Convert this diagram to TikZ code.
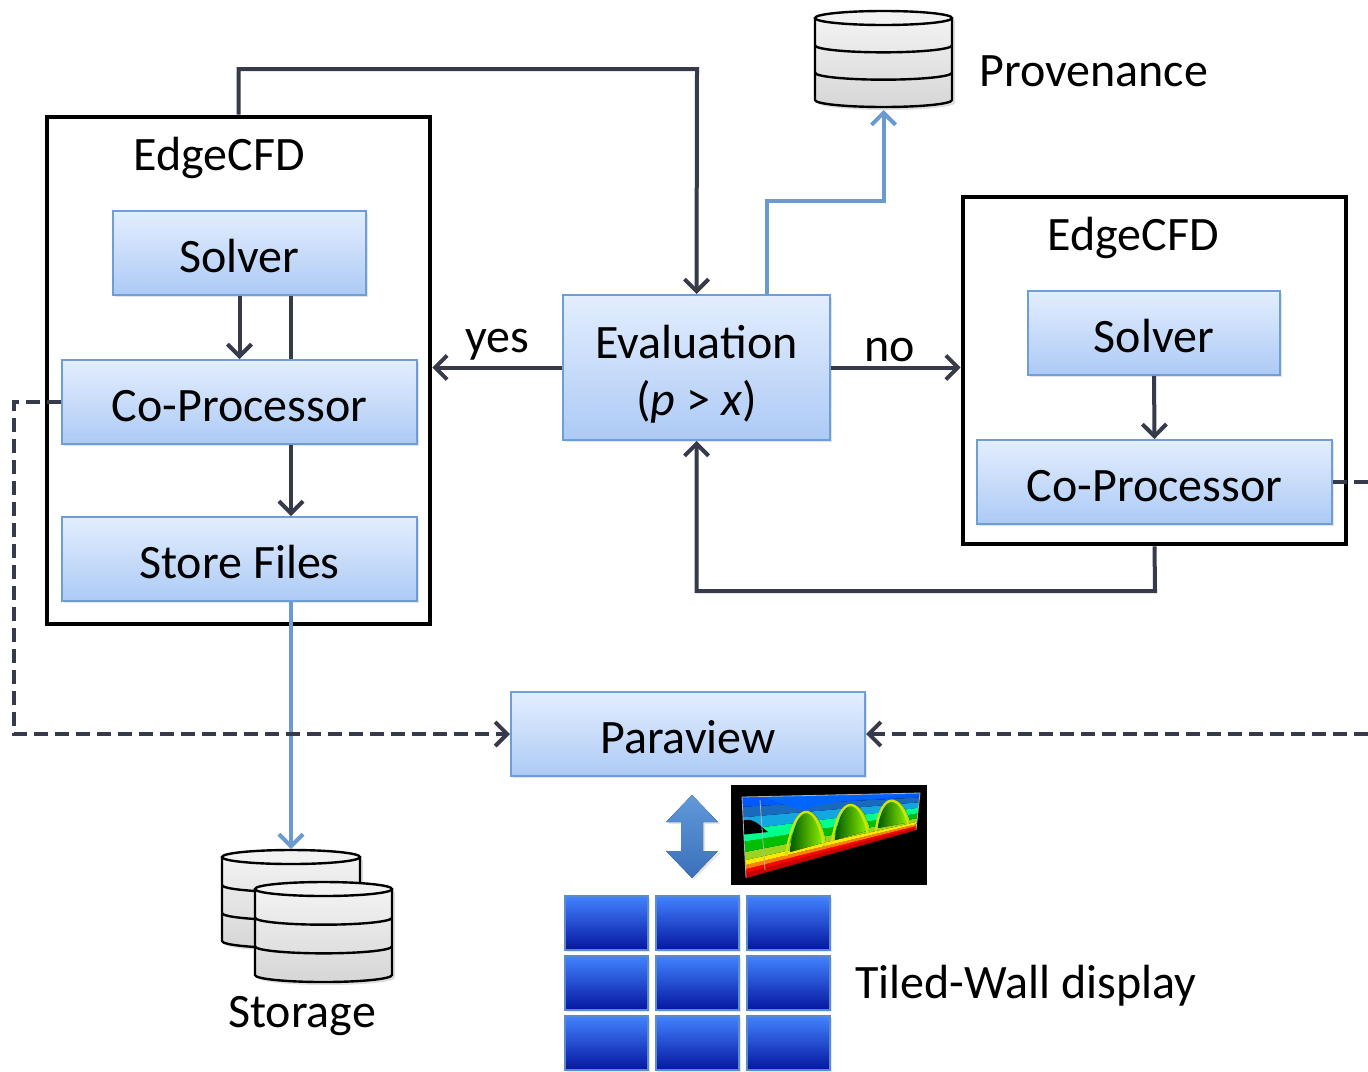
\documentclass[tikz,border=0pt]{standalone}
\usepackage{fontspec}
\setmainfont{Carlito}
\usetikzlibrary{arrows.meta,shadows,calc}

\definecolor{linedark}{HTML}{363A4A}
\definecolor{lineblue}{HTML}{6A9AD0}
\definecolor{boxtop}{HTML}{E3EEFE}
\definecolor{boxbot}{HTML}{ADCAF5}
\definecolor{boxedge}{HTML}{6E9ED6}
\definecolor{tiletop}{HTML}{4283FF}
\definecolor{tilebot}{HTML}{0616A0}
\definecolor{tileedge}{HTML}{5A8CCB}
\definecolor{arrowtop}{HTML}{6199DA}
\definecolor{arrowbot}{HTML}{3A70BA}

\tikzset{
  txt/.style={font=\fontsize{24}{28.5}\selectfont, inner sep=0pt},
  box/.style={txt, draw=boxedge, line width=1pt, top color=boxtop,
    bottom color=boxbot, text height=19.5pt, text depth=0pt,
    drop shadow={shadow xshift=1pt, shadow yshift=-1.2pt, opacity=0.22}},
  frame/.style={draw=black, line width=2.3pt, inner sep=0pt},
  conn/.style={draw=linedark, line width=2pt,
    -{Straight Barb[length=6pt,width=12pt,line width=2pt]}},
  plain/.style={draw=linedark, line width=2pt},
  bconn/.style={draw=lineblue, line width=2pt,
    -{Straight Barb[length=6pt,width=12pt,line width=2pt]}},
  dconn/.style={draw=linedark, line width=2pt, dash pattern=on 7pt off 3.5pt,
    -{Straight Barb[length=6pt,width=12pt,line width=2pt]}},
  dplain/.style={draw=linedark, line width=2pt, dash pattern=on 7pt off 3.5pt},
  tile/.style={draw=tileedge, line width=1.2pt, top color=tiletop,
    bottom color=tilebot, minimum width=41.5pt, minimum height=27pt,
    inner sep=0pt,
    drop shadow={shadow xshift=0.8pt, shadow yshift=-0.8pt, opacity=0.2}},
  drumfill/.style={top color=gray!8, bottom color=gray!32},
  drumtop/.style={fill=gray!10},
  drumline/.style={draw=black, line width=1.2pt},
}

% database drum: centre x, top ellipse centre y, x radius, y radius, height
\newcommand\drumshape[5]{%
  \fill[drumfill, drop shadow={shadow xshift=1.5pt, shadow yshift=-1.5pt, opacity=0.25}]
    (#1-#3,#2) -- (#1-#3,#2-#5)
    arc[start angle=180,end angle=360,x radius=#3,y radius=#4]
    -- (#1+#3,#2) arc[start angle=0,end angle=180,x radius=#3,y radius=#4] -- cycle;
  \draw[drumline] (#1-#3,#2) -- (#1-#3,#2-#5)
    arc[start angle=180,end angle=360,x radius=#3,y radius=#4] -- (#1+#3,#2);
  \draw[drumline] (#1-#3,#2-#5/3)
    arc[start angle=180,end angle=360,x radius=#3,y radius=#4];
  \draw[drumline] (#1-#3,#2-2*#5/3)
    arc[start angle=180,end angle=360,x radius=#3,y radius=#4];
  \fill[drumtop] (#1,#2) ellipse[x radius=#3,y radius=#4];
  \draw[drumline] (#1,#2) ellipse[x radius=#3,y radius=#4];
}

\begin{document}
\begin{tikzpicture}[x=0.5pt,y=0.5pt]
\useasboundingbox[fill=white] (0,0) rectangle (1368,-1071);

% ---- simulation frames ----
\node[frame, minimum width=191.5pt, minimum height=253.5pt] (frameL) at (238.5,-370.5) {};
\node[frame, minimum width=191.5pt, minimum height=173.5pt] (frameR) at (1154.5,-370.5) {};
\node[txt] (edgeL) at (219,-158) {EdgeCFD};
\node[txt] (edgeR) at (1133,-238) {EdgeCFD};

% ---- process boxes ----
\node[box, minimum width=126.5pt, minimum height=42pt] (solverL) at (239.5,-253) {Solver};
\node[box, minimum width=177.5pt, minimum height=42pt] (copL) at (239.5,-402) {Co-Processor};
\node[box, minimum width=177.5pt, minimum height=42pt] (storeL) at (239.5,-559) {Store Files};
\node[box, minimum width=133.5pt, minimum height=72.5pt] (eval) at (696.5,-367.5) {};
\node[txt, align=center] (evaltext) at (696.5,-374)
  {Evaluation\\(\textit{p} > \textit{x})};
\node[box, minimum width=126pt, minimum height=42pt] (solverR) at (1154,-333) {Solver};
\node[box, minimum width=177.5pt, minimum height=42pt] (copR) at (1154.5,-482) {Co-Processor};
\node[box, minimum width=177pt, minimum height=42pt] (para) at (688,-734) {Paraview};

% ---- databases ----
\drumshape{883.5}{-18}{68.5}{7}{82}
\drumshape{291}{-857}{69}{7}{84}
\drumshape{323.5}{-889}{68.5}{7}{86}
\coordinate (provbot) at (883.5,-110);
\coordinate (stortop) at (291,-849);
\node[txt, anchor=west] (provlbl) at (979,-71) {Provenance};
\node[txt] (storlbl) at (302,-1016) {Storage};

% ---- helper coordinates for routed connectors ----
\coordinate (sv) at (291,0);
\coordinate (topbend) at (697,-69);
\coordinate (provbend) at (883.5,-201);
\coordinate (loopbend) at (1155,-591);
\coordinate (dl) at (14,-734);
\coordinate (dr1) at (1368,-482);
\coordinate (dr2) at (1368,-734);

% ---- connectors ----
\draw[conn] (frameL.north) |- (topbend) -- (eval.north);
\draw[conn] (solverL.south) -- (copL.north);
\draw[plain] (solverL.south -| sv) -- (copL.north -| sv);
\draw[conn] (copL.south -| sv) -- (storeL.north -| sv);
\draw[conn] (eval.west) -- (eval.west -| frameL.east);
\draw[conn] (eval.east) -- (eval.east -| frameR.west);
\node[txt] (yes) at (497,-345) {yes};
\node[txt] (no) at (890,-350) {no};
\draw[conn] (solverR.south) -- (copR.north);
\draw[conn] (frameR.south) -- (loopbend) -| (eval.south);
\draw[bconn] ([xshift=-32pt]eval.north east) |- (provbend) -- (provbot);
\draw[bconn] (storeL.south -| sv) -- (stortop);
\draw[dconn] (copL.west) -| (dl) -- (para.west);
\draw[dplain] (copR.east) -- (dr1);
\draw[dconn] (dr2) -- (para.east);

% ---- visualisation thumbnail: layered flow field in a box ----
\fill[black] (731,-785) rectangle (927,-885);
\begin{scope}
  \clip (742,-797) -- (920,-793) -- (916,-830) -- (746,-878) -- cycle;
  \foreach \a/\b/\col in {0/0.06/red!80!black, 0.06/0.11/red, 0.11/0.16/orange,
      0.16/0.22/yellow!90!orange, 0.22/0.32/yellow!60!green,
      0.32/0.45/green!75!black, 0.45/0.6/green!45!cyan, 0.6/0.75/cyan!85!teal,
      0.75/0.88/cyan!45!blue, 0.88/1.02/blue!65!cyan}{
    \fill[\col] ({746-4*\a},{-(878-81*\a)}) -- ({916+4*\a},{-(830-37*\a)})
      -- ({916+4*\b},{-(830-37*\b)}) -- ({746-4*\b},{-(878-81*\b)}) -- cycle;
  }
  \fill[left color=green!35!black, right color=yellow!60!green]
    (790,-852) .. controls (796,-800) and (818,-800) .. (826,-842) -- cycle;
  \fill[left color=green!35!black, right color=yellow!60!green]
    (835,-840) .. controls (841,-795) and (862,-795) .. (870,-830) -- cycle;
  \fill[left color=green!35!black, right color=yellow!60!green]
    (878,-828) .. controls (883,-792) and (902,-792) .. (910,-822) -- cycle;
  \draw[yellow!80!green, line width=1.2pt] (786,-856) .. controls (794,-800) and (816,-798) .. (824,-846);
  \draw[yellow!80!green, line width=1.2pt] (832,-842) .. controls (839,-794) and (860,-794) .. (868,-834);
  \draw[yellow!80!green, line width=1.2pt] (876,-830) .. controls (881,-792) and (900,-792) .. (908,-824);
  \fill[blue!60!cyan] (742,-797) .. controls (770,-790) and (790,-815) .. (810,-808)
    .. controls (840,-798) and (880,-800) .. (920,-793) -- (920,-790) -- (742,-790) -- cycle;
  \fill[black] (740,-822) .. controls (752,-815) and (760,-826) .. (768,-832)
    -- (740,-835) -- cycle;
\end{scope}
\draw[gray!60, line width=0.4pt] (742,-797) -- (920,-793) -- (916,-830) (742,-797) -- (746,-878);
\draw[gray!60, line width=0.4pt] (760,-800) -- (765,-870);

% ---- link to the display wall ----
\fill[top color=arrowtop, bottom color=arrowbot,
      drop shadow={shadow xshift=1pt, shadow yshift=-1pt, opacity=0.2}]
  (692,-795) -- (718,-822) -- (703,-822) -- (703,-851) -- (718,-851)
  -- (692,-878) -- (666,-851) -- (681,-851) -- (681,-822) -- (666,-822) -- cycle;

% ---- tiled wall ----
\foreach \c/\x in {0/565,1/656,2/747}{
  \foreach \r/\y in {0/896,1/956,2/1016}{
    \node[tile] (t\c\r) at (\x+41.5,-\y-27) {};
  }
}
\node[txt, anchor=west] (tiledlbl) at (855,-986) {Tiled-Wall display};
\end{tikzpicture}
\end{document}
